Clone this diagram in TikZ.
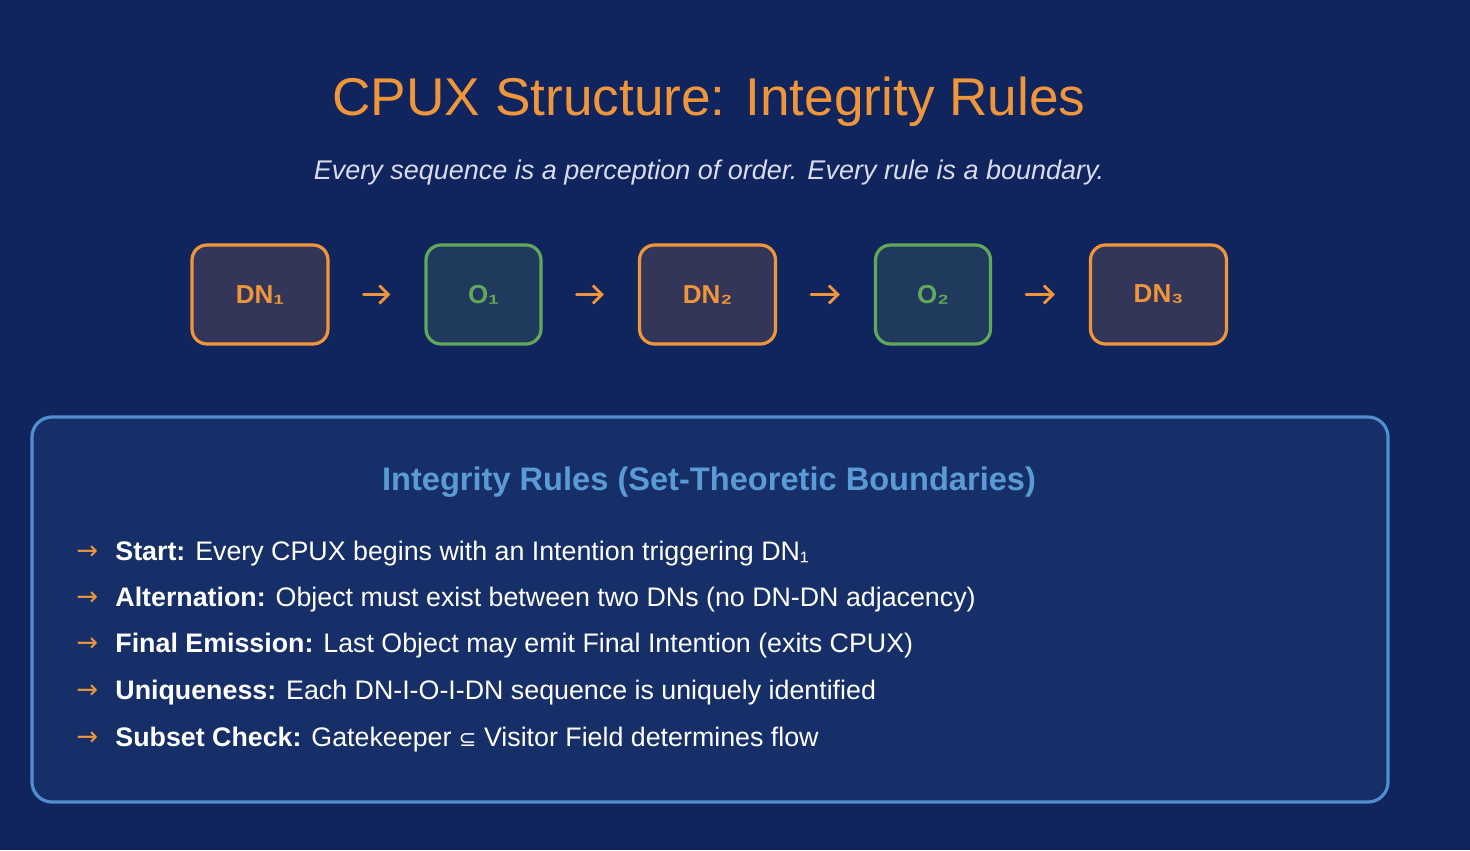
\documentclass[tikz,border=0pt]{standalone}
\usepackage{fontspec}
\setmainfont{Liberation Sans}
\newfontfamily\titlefont{Liberation Sans}
\newfontfamily\symfont{DejaVu Sans}
\usetikzlibrary{arrows.meta}
\definecolor{bgc}{HTML}{10245E}
\definecolor{boxfill}{HTML}{172F68}
\definecolor{boxline}{HTML}{4F8FD0}
\definecolor{orangec}{HTML}{F0963A}
\definecolor{greenc}{HTML}{62A85A}
\definecolor{dnfill}{HTML}{333658}
\definecolor{ofill}{HTML}{1F3A5C}
\definecolor{subc}{HTML}{D8DCEB}
\definecolor{titleblue}{HTML}{5B9BD5}
\tikzset{
  dnbox/.style={draw=orangec, fill=dnfill, line width=1.6pt, rounded corners=7.5pt, minimum width=68pt, minimum height=49.5pt, text=orangec, font=\fontsize{13}{15}\selectfont\bfseries, inner sep=0pt},
  obox/.style={draw=greenc, fill=ofill, line width=1.6pt, rounded corners=7.5pt, minimum width=57.5pt, minimum height=49.5pt, text=greenc, font=\fontsize{13}{15}\selectfont\bfseries, inner sep=0pt},
  flow/.style={draw=orangec, line width=1.4pt, line cap=round, -{Straight Barb[length=4.5pt,width=9pt,line width=1.4pt]}, shorten <=17pt, shorten >=17pt},
  rule/.style={anchor=west, text=white, font=\fontsize{13.4}{16}\selectfont, inner sep=0pt},
  bullet/.style={anchor=west, text=orangec, font=\symfont\fontsize{13}{15}\selectfont, inner sep=0pt}
}
\begin{document}
\begin{tikzpicture}[x=0.5pt,y=-0.5pt]
\fill[bgc] (0,0) rectangle (1470,850);
\useasboundingbox (0,0) rectangle (1470,850);
\node[text=orangec, font=\titlefont\fontsize{26.6}{31}\selectfont, inner sep=0pt] (title) at (709,102) {CPUX Structure: Integrity Rules};
\node[text=subc, font=\fontsize{13.5}{16}\selectfont\itshape, inner sep=0pt] (sub) at (709,173) {Every sequence is a perception of order. Every rule is a boundary.};
\node[dnbox] (dn1) at (260,294.5) {DN₁};
\node[obox] (o1) at (483.5,294.5) {O₁};
\node[dnbox] (dn2) at (707.5,294.5) {DN₂};
\node[obox] (o2) at (933,294.5) {O₂};
\node[dnbox] (dn3) at (1158.5,294.5) {DN₃};
\draw[flow] (dn1) -- (o1);
\draw[flow] (o1) -- (dn2);
\draw[flow] (dn2) -- (o2);
\draw[flow] (o2) -- (dn3);
\draw[draw=boxline, fill=boxfill, line width=1.6pt, rounded corners=10pt] (32,417) rectangle (1388,802);
\node[text=titleblue, font=\fontsize{16.3}{19}\selectfont\bfseries, inner sep=0pt] (bt) at (709,482) {Integrity Rules (Set-Theoretic Boundaries)};
\node[bullet] (b1) at (76,553) {→};
\node[rule] (r1) at (115,554) {\textbf{Start:} Every CPUX begins with an Intention triggering DN₁};
\node[bullet] (b2) at (76,599) {→};
\node[rule] (r2) at (115,600) {\textbf{Alternation:} Object must exist between two DNs (no DN-DN adjacency)};
\node[bullet] (b3) at (76,645) {→};
\node[rule] (r3) at (115,646) {\textbf{Final Emission:} Last Object may emit Final Intention (exits CPUX)};
\node[bullet] (b4) at (76,692) {→};
\node[rule] (r4) at (115,693) {\textbf{Uniqueness:} Each DN-I-O-I-DN sequence is uniquely identified};
\node[bullet] (b5) at (76,739) {→};
\node[rule] (r5) at (115,740) {\textbf{Subset Check:} Gatekeeper {\symfont\fontsize{10.5}{12}\selectfont ⊆} Visitor Field determines flow};
\end{tikzpicture}
\end{document}
